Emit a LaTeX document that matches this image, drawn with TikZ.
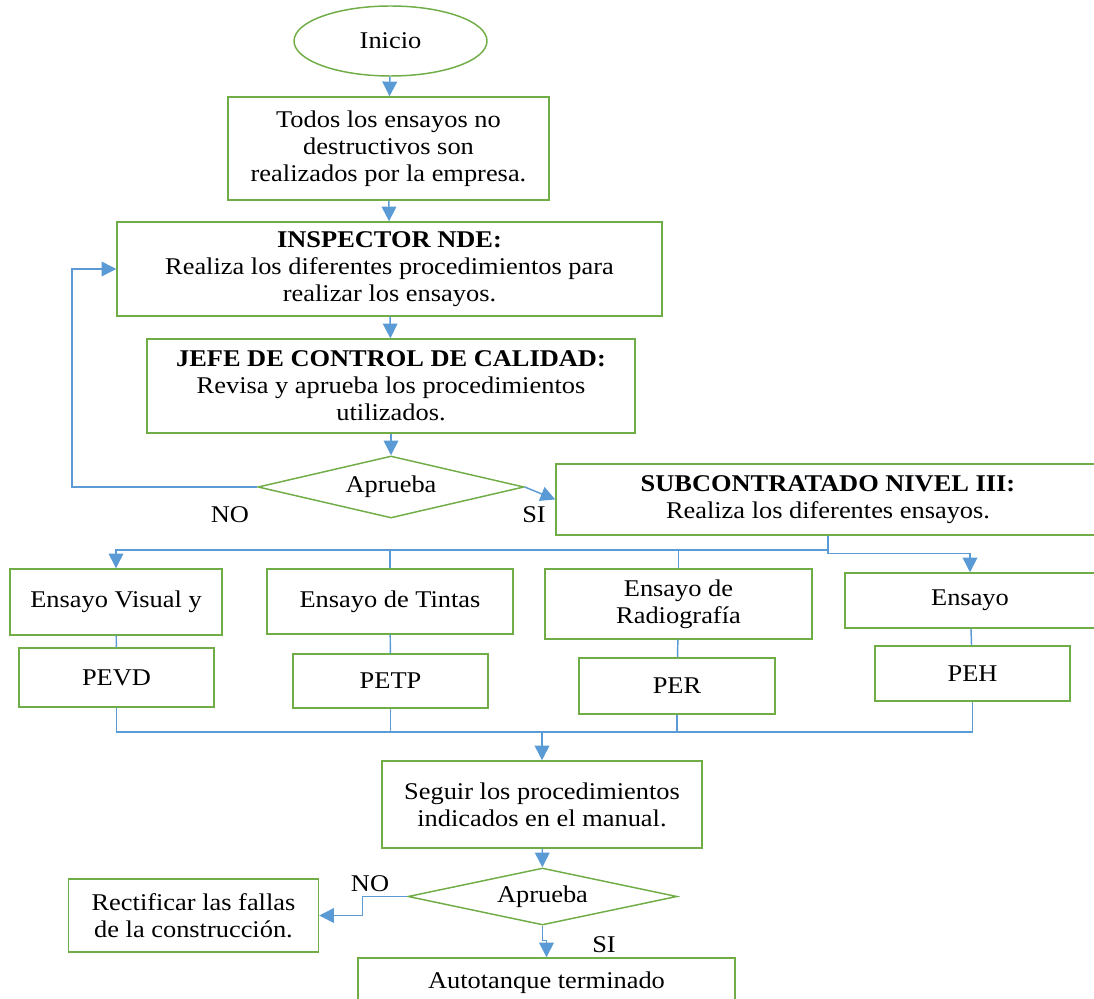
\documentclass[tikz,border=0pt]{standalone}
\usepackage{fontspec}
\setmainfont{Liberation Serif}[FakeStretch=1.1]
\usetikzlibrary{shapes.geometric,arrows.meta}

\definecolor{boxgreen}{RGB}{112,173,71}
\definecolor{flowblue}{RGB}{91,155,213}

\newcommand{\flowfont}{\fontsize{18}{20.25}\selectfont}

\tikzset{every picture/.style={line width=0.75pt}}
\tikzset{
  proc/.style={draw=boxgreen, line width=1.1pt, rectangle, align=center, inner sep=0.75pt, font=\flowfont},
  startend/.style={draw=boxgreen, line width=1.1pt, ellipse, inner sep=0.75pt, font=\flowfont},
  decision/.style={draw=boxgreen, line width=1.1pt, diamond, aspect=4.3, inner sep=0pt, font=\flowfont},
  flow/.style={draw=flowblue, line width=1.1pt, -{Triangle[length=11pt,width=11pt]}},
  link/.style={draw=flowblue, line width=1.1pt},
  lbl/.style={inner sep=0.75pt, font=\flowfont}
}

\begin{document}
\begin{tikzpicture}[x=0.75pt,y=0.75pt,yscale=-1,xscale=1]
        \useasboundingbox (0,0) rectangle (1094,998);

        % upper chain
        \draw (390.5,41) node [startend, minimum width=144.75pt, minimum height=52.5pt] (inicio) {Inicio};
        \draw (388.5,148.5) node [proc, minimum width=240.75pt, minimum height=77.25pt] (todos) {Todos los ensayos no\\destructivos son\\realizados por la empresa.};
        \draw (389.5,269) node [proc, minimum width=408.75pt, minimum height=70.5pt] (inspector) {\textbf{INSPECTOR NDE:}\\Realiza los diferentes procedimientos para\\realizar los ensayos.};
        \draw (391,386) node [proc, minimum width=366pt, minimum height=70.5pt] (jefe) {\textbf{JEFE DE CONTROL DE CALIDAD:}\\Revisa y aprueba los procedimientos\\utilizados.};
        \draw (391,487) node [decision, minimum width=199.5pt, minimum height=46.5pt] (aprueba) {Aprueba};
        \draw (828,499.5) node [proc, minimum width=408pt, minimum height=53.25pt] (sub) {\textbf{SUBCONTRATADO NIVEL III:}\\Realiza los diferentes ensayos.};

        % ensayos
        \draw (116,602) node [proc, minimum width=159pt, minimum height=49.5pt] (visual) {Ensayo Visual y};
        \draw (116.5,677.5) node [proc, minimum width=146.25pt, minimum height=44.25pt] (pevd) {PEVD};
        \draw (390,601.5) node [proc, minimum width=184.5pt, minimum height=48.75pt] (tintas) {Ensayo de Tintas};
        \draw (390.5,681) node [proc, minimum width=146.25pt, minimum height=40.5pt] (petp) {PETP};
        \draw (678.5,604) node [proc, minimum width=200.25pt, minimum height=52.5pt] (radio) {Ensayo de\\Radiografía};
        \draw (677,686) node [proc, minimum width=147pt, minimum height=42pt] (per) {PER};
        \draw (970,600.5) node [proc, minimum width=187.5pt, minimum height=41.25pt] (hermet) {Ensayo};
        \draw (972.5,673.5) node [proc, minimum width=146.25pt, minimum height=41.25pt] (peh) {PEH};

        % lower chain
        \draw (542,804.5) node [proc, minimum width=240pt, minimum height=65.25pt] (seguir) {Seguir los procedimientos\\indicados en el manual.};
        \draw (542.5,896.5) node [decision, minimum width=201.75pt, minimum height=42.75pt] (apruebab) {Aprueba};
        \draw (193.5,915.5) node [proc, minimum width=187.5pt, minimum height=54.75pt] (rectif) {Rectificar las fallas\\de la construcción.};
        \draw (546.5,983) node [proc, minimum width=282.75pt, minimum height=37.5pt] (auto) {Autotanque terminado};

        \draw (230,515) node [lbl] (noa) {NO};
        \draw (534,515) node [lbl] (sia) {SI};
        \draw (370,884) node [lbl] (nob) {NO};
        \draw (604,945) node [lbl] (sib) {SI};

        \coordinate (loop) at (72,487);
        \coordinate (bus) at (828,550);
        \coordinate (merge) at (542,732);

        % connectors
        \draw [flow] (inicio) -- (todos);
        \draw [flow] (todos) -- (inspector);
        \draw [flow] (inspector) -- (jefe);
        \draw [flow] (jefe) -- (aprueba);
        \draw [flow] (aprueba.west) -- (loop) |- (inspector.west);
        \draw [flow] (aprueba.east) -- (sub.west);
        \draw [flow] (sub.south) -- (bus) -| (visual.north);
        \draw [flow] (sub.south) -- ++(0,18) -| (hermet.north);
        \draw [link] (tintas.north) -- (tintas.north |- bus);
        \draw [link] (radio.north) -- (radio.north |- bus);
        \draw [link] (visual) -- (pevd);
        \draw [link] (tintas) -- (petp);
        \draw [link] (radio) -- (per);
        \draw [link] (hermet) -- (peh);
        \draw [link] (pevd.south) -- (pevd.south |- merge) -- (peh.south |- merge) -- (peh.south);
        \draw [link] (petp.south) -- (petp.south |- merge);
        \draw [link] (per.south) -- (per.south |- merge);
        \draw [flow] (merge) -- (seguir.north);
        \draw [flow] (seguir) -- (apruebab);
        \draw [flow] (apruebab.west) -- ++(-45,0) |- (rectif.east);
        \draw [flow] (apruebab.south) -- ++(0,15) -| (auto.north);
    \end{tikzpicture}
\end{document}
